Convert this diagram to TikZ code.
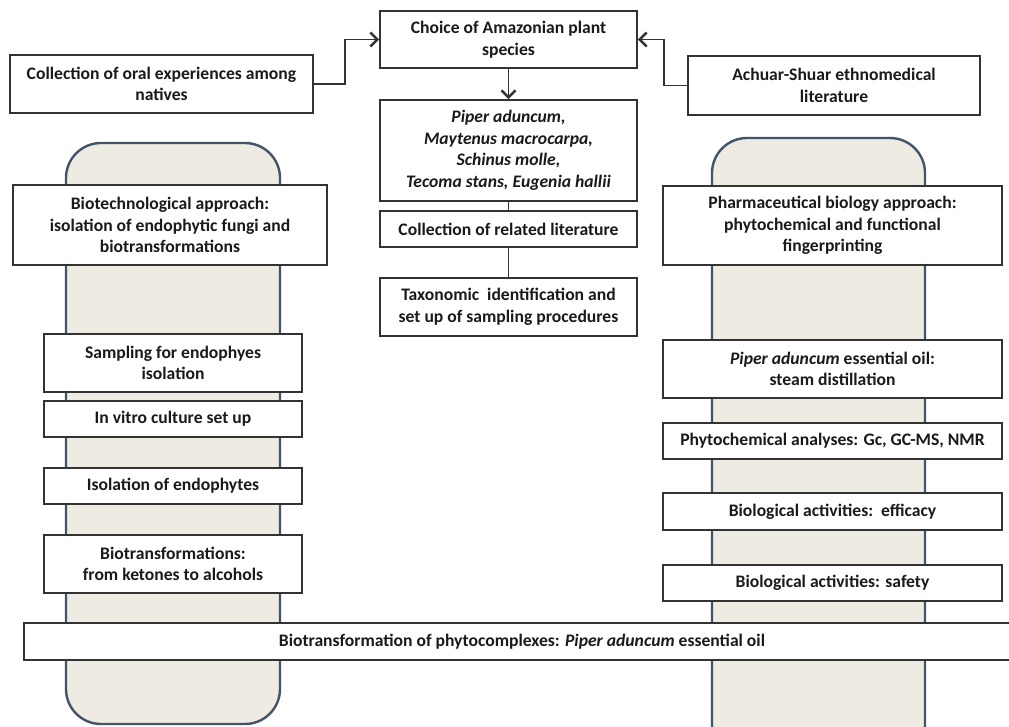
\documentclass[tikz,border=0pt]{standalone}
\usepackage{fontspec}
\setmainfont{Carlito}
\usetikzlibrary{arrows.meta}
\definecolor{boxline}{HTML}{333333}
\definecolor{pillfill}{HTML}{EEECE2}
\definecolor{pillline}{HTML}{445468}
\definecolor{txt}{HTML}{1A1A1A}
\tikzset{
  box/.style={draw=boxline, fill=white, line width=1.6pt, inner sep=0pt, align=center,
    text=txt, font=\fontsize{17.6}{21.5}\selectfont\bfseries},
  pill/.style={draw=pillline, fill=pillfill, line width=2.4pt, rounded corners=35pt},
  conn/.style={draw=boxline, line width=1.5pt},
  arr/.style={conn, -{Straight Barb[length=7pt,width=14pt,line width=2.6pt]}}
}
\begin{document}
\begin{tikzpicture}[x=1pt,y=-1pt]
\useasboundingbox (0,0) rectangle (1009,726);
\clip (0,0) rectangle (1009,726);
\fill[white] (0,0) rectangle (1009,726);
% pills
\draw[pill] (66,143) rectangle (280,724);
\draw[pill] (712,138) rectangle (925,760);
% top boxes
\node[box, minimum width=257, minimum height=57] (choice) at (508.5,39.5) {Choice of Amazonian plant\\species};
\node[box, minimum width=303, minimum height=58] (oral) at (161.5,84) {Collection of oral experiences among\\natives};
\node[box, minimum width=292, minimum height=59] (achuar) at (834,85.5) {Achuar-Shuar ethnomedical\\literature};
\node[box, minimum width=257, minimum height=101] (species) at (508.5,150.5) {\itshape Piper aduncum,\\\itshape Maytenus macrocarpa,\\\itshape Schinus molle,\\\itshape Tecoma stans, Eugenia hallii};
\node[box, minimum width=257, minimum height=36] (related) at (508.5,229) {Collection of related literature};
\node[box, minimum width=257, minimum height=58] (taxo) at (508.5,307) {Taxonomic\ \ identification and\\set up of sampling procedures};
% approach boxes
\node[box, minimum width=314, minimum height=80] (biotech) at (170,225) {Biotechnological approach:\\isolation of endophytic fungi and\\biotransformations};
\node[box, minimum width=339, minimum height=79] (pharma) at (832.5,225.5) {Pharmaceutical biology approach:\\phytochemical and functional\\fingerprinting};
% left steps
\node[box, minimum width=258, minimum height=58] (sampling) at (173,363) {Sampling for endophyes\\isolation};
\node[box, minimum width=258, minimum height=36] (invitro) at (173,419) {In vitro culture set up};
\node[box, minimum width=258, minimum height=36] (isolation) at (173,486) {Isolation of endophytes};
\node[box, minimum width=258, minimum height=58] (biotr) at (173,564) {Biotransformations:\\from ketones to alcohols};
% right steps
\node[box, minimum width=339, minimum height=58] (piper) at (832.5,369) {\textit{Piper aduncum} essential oil:\\steam distillation};
\node[box, minimum width=339, minimum height=36] (phyto) at (832.5,441) {Phytochemical analyses: Gc, GC-MS, NMR};
\node[box, minimum width=339, minimum height=37] (efficacy) at (832.5,511.5) {Biological activities:\ \ efficacy};
\node[box, minimum width=339, minimum height=36] (safety) at (832.5,583) {Biological activities: safety};
% bottom
\node[box, minimum width=996, minimum height=37] (big) at (522,641.5) {Biotransformation of phytocomplexes: \textit{Piper aduncum} essential oil};
% connectors
\draw[arr] (oral.east) -| ([xshift=-34pt]choice.west) -- (choice.west);
\draw[arr] (achuar.west) -| ([xshift=26pt]choice.east) -- (choice.east);
\draw[arr] (choice.south) -- (species.north);
\draw[conn] (species.south) -- (related.north);
\draw[conn] (related.south) -- (taxo.north);
\end{tikzpicture}
\end{document}
